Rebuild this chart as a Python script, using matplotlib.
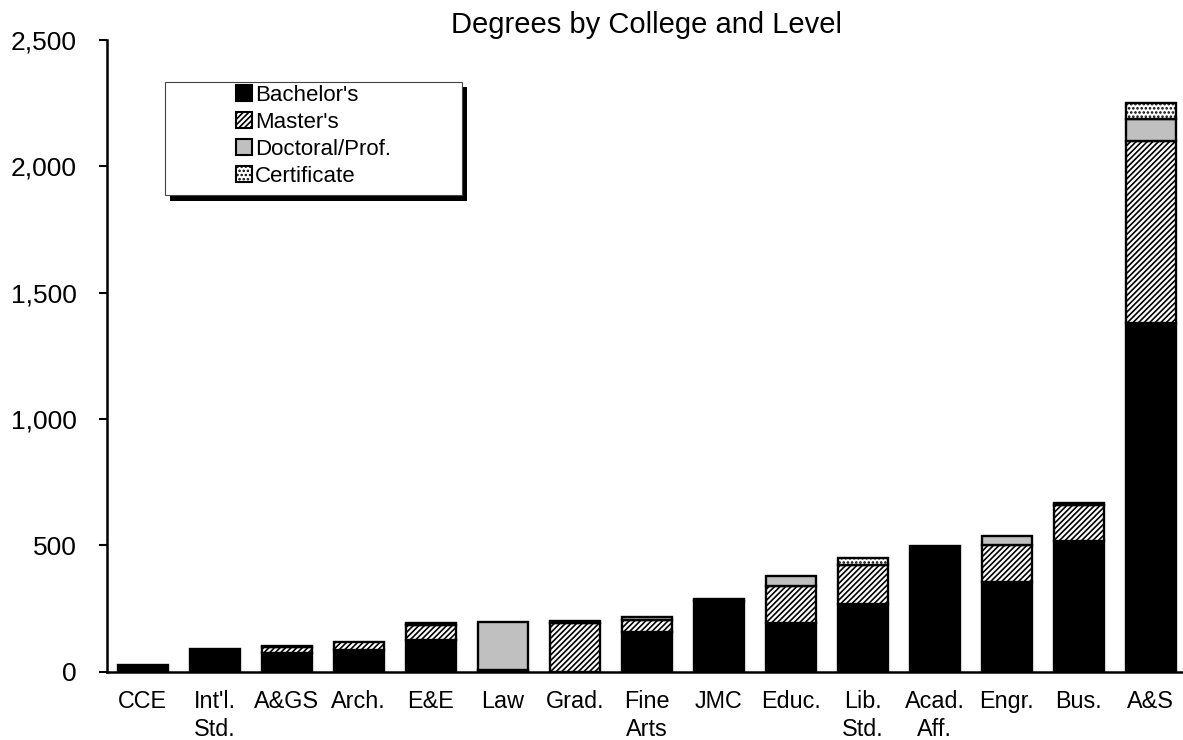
import numpy as np
import matplotlib as mpl
import matplotlib.pyplot as plt
from matplotlib.patches import Patch, Rectangle

mpl.rcParams['font.family'] = ['Liberation Sans', 'DejaVu Sans']
mpl.rcParams['hatch.linewidth'] = 1.2

# data
colleges = ["CCE", "Int'l.\nStd.", "A&GS", "Arch.", "E&E", "Law", "Grad.", "Fine\nArts",
            "JMC", "Educ.", "Lib.\nStd.", "Acad.\nAff.", "Engr.", "Bus.", "A&S"]
bachelors = [28, 88, 74, 84, 125, 0, 0, 156, 278, 191, 266, 497, 354, 519, 1380]
masters = [0, 0, 24, 35, 58, 8, 193, 49, 8, 149, 158, 0, 146, 139, 720]
doctoral = [0, 0, 5, 0, 10, 188, 8, 12, 0, 39, 0, 0, 36, 8, 87]
certificate = [0, 0, 0, 0, 0, 0, 0, 0, 0, 0, 26, 0, 0, 0, 62]

series = [
    ("Bachelor's", bachelors, 'black', None),
    ("Master's", masters, 'white', '//////'),
    ("Doctoral/Prof.", doctoral, '#C0C0C0', None),
    ("Certificate", certificate, 'white', '....'),
]

W, H = 1183, 740
fig = plt.figure(figsize=(W / 100, H / 100), dpi=100)
ax = fig.add_axes([106.7 / W, 1 - 671.7 / H, 1080 / W, (671.7 - 40) / H])

x = np.arange(len(colleges))
bottom = np.zeros(len(colleges))
for name, vals, face, hatch in series:
    vals = np.array(vals, dtype=float)
    lw = [1.7 if v > 0 else 0 for v in vals]
    ax.bar(x, vals, width=0.694, bottom=bottom, color=face, edgecolor='black',
           hatch=hatch, linewidth=lw, zorder=2)
    bottom += vals

ax.set_xlim(-0.5, len(colleges) - 0.5)
ax.set_ylim(0, 2500)
ax.set_yticks([0, 500, 1000, 1500, 2000, 2500])
ax.set_yticklabels(['0', '500', '1,000', '1,500', '2,000', '2,500'])
ax.set_xticks(x)
ax.set_xticklabels(colleges, linespacing=1.3)

for s in ['top', 'right']:
    ax.spines[s].set_visible(False)
for s in ['left', 'bottom']:
    ax.spines[s].set_linewidth(1.8)
ax.tick_params(axis='y', direction='out', length=5.5, width=1.5, labelsize=19, pad=16)
ax.tick_params(axis='x', length=0, labelsize=16.8, pad=13)

ax.set_title('Degrees by College and Level', fontsize=21, pad=5)

# legend box with shadow
fig.add_artist(Rectangle((170 / W, 1 - 200.5 / H), 296.7 / W, 113.3 / H,
                         transform=fig.transFigure, facecolor='black', edgecolor='none'))
fig.add_artist(Rectangle((165 / W, 1 - 195 / H), 296.7 / W, 113.3 / H,
                         transform=fig.transFigure, facecolor='white', edgecolor='#444444',
                         linewidth=0.8))
handles = [Patch(facecolor=face, edgecolor='black', hatch=hatch, linewidth=1.5, label=name)
           for name, vals, face, hatch in series]
fig.legend(handles=handles, loc='upper left', bbox_to_anchor=(236 / W, 1 - 85 / H),
           frameon=False, fontsize=16, borderpad=0, handlelength=0.72,
           handleheight=0.72, handletextpad=0.12, labelspacing=0.27, borderaxespad=0)

plt.savefig('out.png', dpi=100)
